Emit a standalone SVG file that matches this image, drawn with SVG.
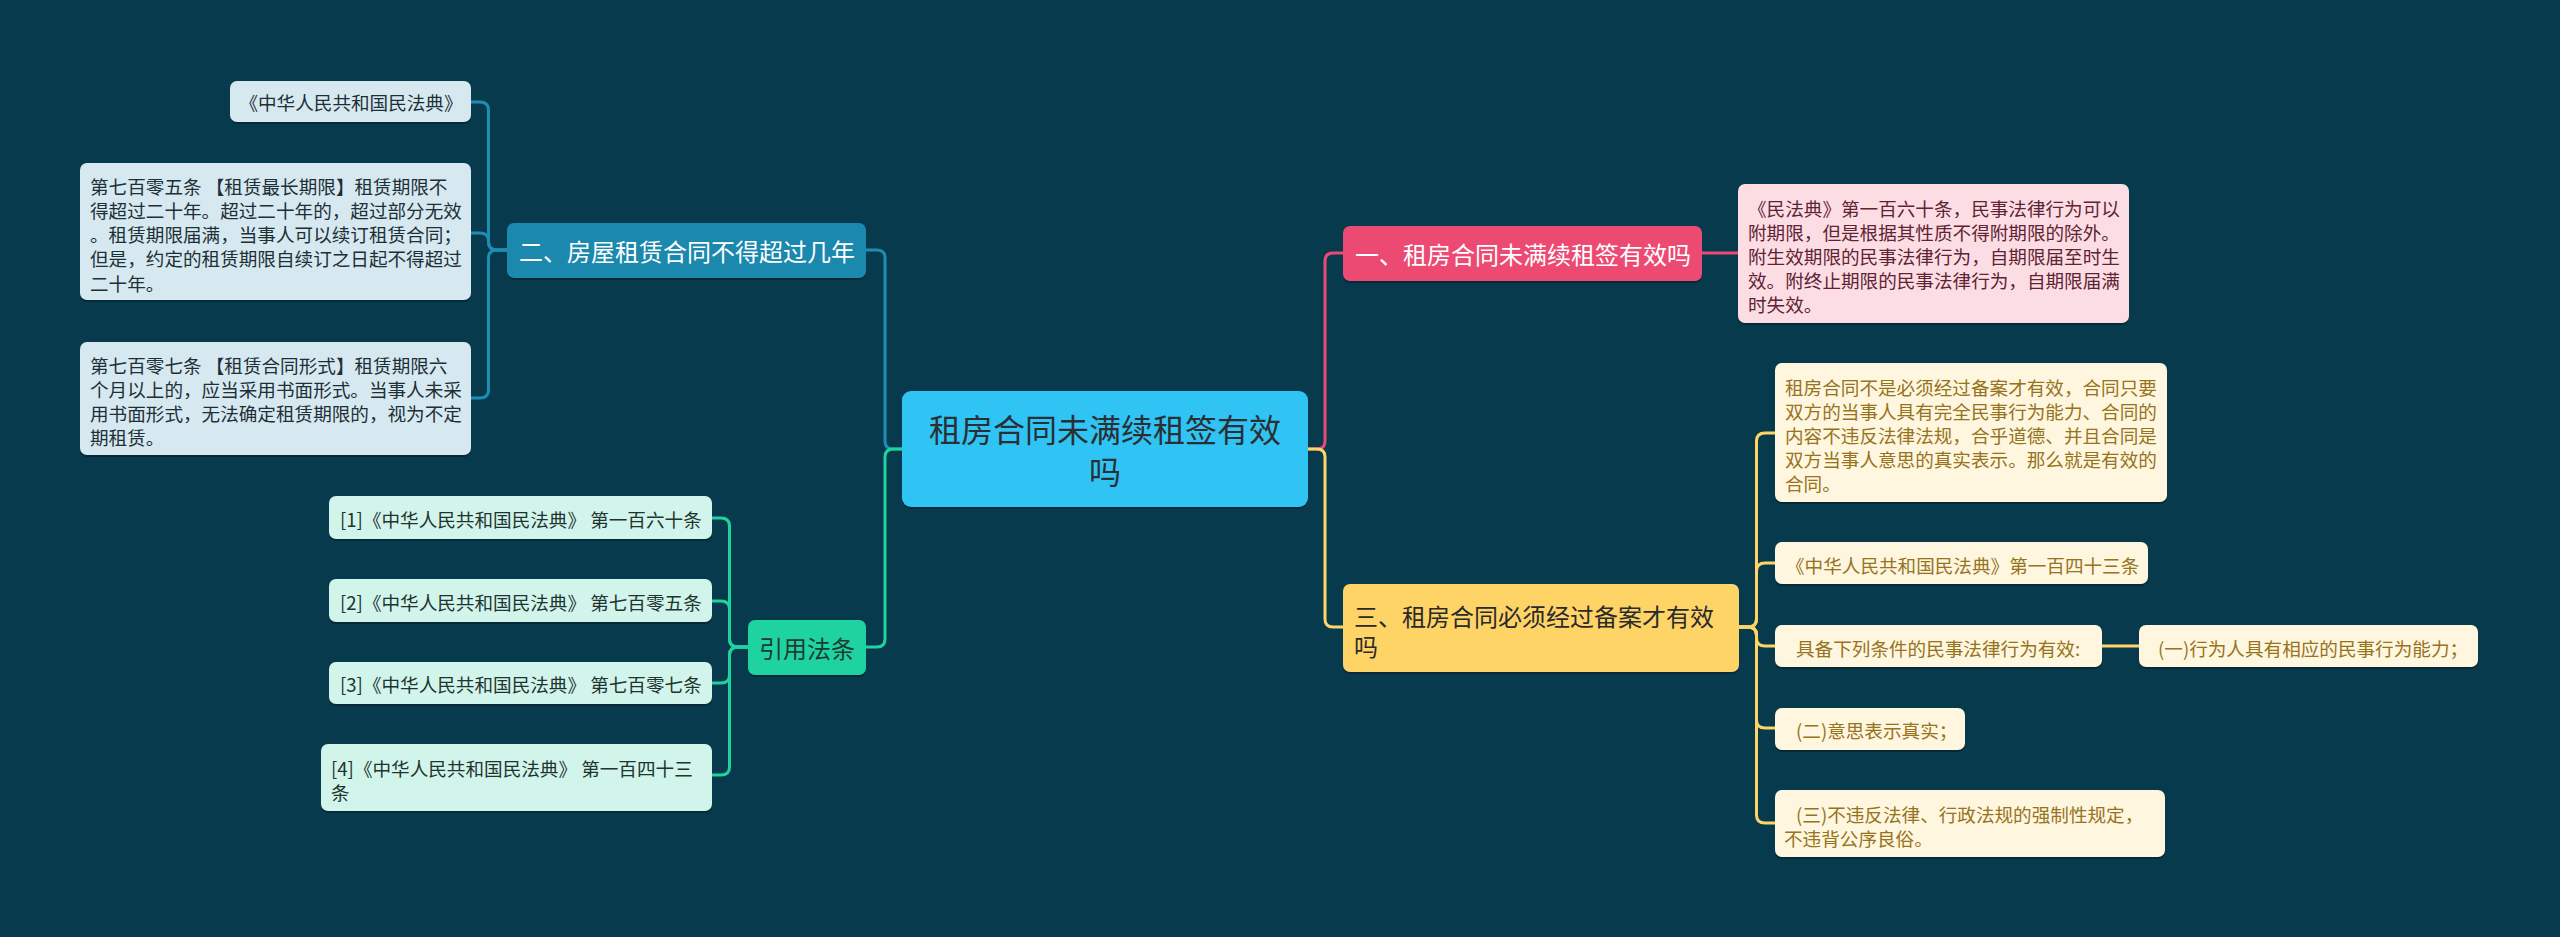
<svg xmlns="http://www.w3.org/2000/svg" width="2560" height="937" viewBox="0 0 2560 937">
<style>
text{font-family:"Noto Sans CJK SC","Noto Sans",sans-serif;dominant-baseline:central}
.sh{fill:rgba(0,0,0,0.28)}
.c{fill:none;stroke-width:3;stroke-linecap:round;stroke-linejoin:round}
.cb{stroke:#1E8DB3}.cg{stroke:#1FD3A0}.cp{stroke:#EC4A72}.cy{stroke:#FFD466}
.t19{font-size:18.6px}
.t24{font-size:24px}
.lb{fill:#D6E9F1}.lbt{fill:#1F2F36}
.lg{fill:#D2F5EB}.lgt{fill:#1F3430}
.lp{fill:#FDDDE4}.lpt{fill:#5E2434}
.ly{fill:#FFF6DF}.lyt{fill:#96731D}
</style>
<rect width="2560" height="937" fill="#073A4D"/>
<g id="connectors">
<path class="c cb" d="M902 449 H893 Q885 449 885 441 V258 Q885 250 877 250 H866"/>
<path class="c cb" d="M507 250 H497 Q488.5 250 488.5 242 V110 Q488.5 102 480 102 H471"/>
<path class="c cb" d="M507 250 H497 Q488.5 250 488.5 242 V241 Q488.5 233 480 233 H471"/>
<path class="c cb" d="M507 250 H497 Q488.5 250 488.5 258 V390 Q488.5 398 480 398 H471"/>
<path class="c cg" d="M902 449 H893 Q885 449 885 457 V639 Q885 647 877 647 H866"/>
<path class="c cg" d="M748 647 H738 Q729.5 647 729.5 639 V526 Q729.5 518 721 518 H712"/>
<path class="c cg" d="M748 647 H738 Q729.5 647 729.5 639 V609 Q729.5 601 721 601 H712"/>
<path class="c cg" d="M748 647 H738 Q729.5 647 729.5 655 V675 Q729.5 683 721 683 H712"/>
<path class="c cg" d="M748 647 H738 Q729.5 647 729.5 655 V767 Q729.5 775 721 775 H712"/>
<path class="c cp" d="M1307 449 H1317 Q1325 449 1325 441 V261 Q1325 253 1333 253 H1343"/>
<path class="c cp" d="M1702 253 H1738"/>
<path class="c cy" d="M1307 449 H1317 Q1325 449 1325 457 V619 Q1325 627 1333 627 H1343"/>
<path class="c cy" d="M1739 627 H1748 Q1756.5 627 1756.5 619 V441 Q1756.5 433 1765 433 H1775"/>
<path class="c cy" d="M1739 627 H1748 Q1756.5 627 1756.5 619 V571 Q1756.5 563 1765 563 H1775"/>
<path class="c cy" d="M1739 627 H1748 Q1756.5 627 1756.5 635 V638 Q1756.5 646 1765 646 H1775"/>
<path class="c cy" d="M1739 627 H1748 Q1756.5 627 1756.5 635 V720 Q1756.5 728 1765 728 H1775"/>
<path class="c cy" d="M1739 627 H1748 Q1756.5 627 1756.5 635 V815 Q1756.5 823 1765 823 H1775"/>
<path class="c cy" d="M2102 646 H2139"/>
</g>
<g id="root">
<rect class="sh" x="902" y="393" width="406" height="116" rx="9"/>
<rect x="902" y="391" width="406" height="116" rx="9" fill="#2FC4F4"/>
<text x="1105" y="428" font-size="32" text-anchor="middle" fill="#2A2F33">租房合同未满续租签有效</text>
<text x="1105" y="470" font-size="32" text-anchor="middle" fill="#2A2F33">吗</text>
</g>
<g id="n-er">
<rect class="sh" x="507" y="225" width="359" height="55" rx="7"/>
<rect x="507" y="223" width="359" height="55" rx="7" fill="#1B88AE"/>
<text class="t24" x="687" y="250" text-anchor="middle" fill="#FFFFFF">二、房屋租赁合同不得超过几年</text>
</g>
<g id="n-a1">
<rect class="sh" x="230" y="83" width="241" height="41" rx="7"/>
<rect class="lb" x="230" y="81" width="241" height="41" rx="7"/>
<text class="t19 lbt" x="351" y="101.5" text-anchor="middle">《中华人民共和国民法典》</text>
</g>
<g id="n-a2">
<rect class="sh" x="80" y="165" width="391" height="137" rx="7"/>
<rect class="lb" x="80" y="163" width="391" height="137" rx="7"/>
<text class="t19 lbt" x="90" y="185">第七百零五条 【租赁最长期限】租赁期限不</text>
<text class="t19 lbt" x="90" y="209.3">得超过二十年。超过二十年的，超过部分无效</text>
<text class="t19 lbt" x="90" y="233.6">。租赁期限届满，当事人可以续订租赁合同；</text>
<text class="t19 lbt" x="90" y="257.9">但是，约定的租赁期限自续订之日起不得超过</text>
<text class="t19 lbt" x="90" y="282.2">二十年。</text>
</g>
<g id="n-a3">
<rect class="sh" x="80" y="344" width="391" height="113" rx="7"/>
<rect class="lb" x="80" y="342" width="391" height="113" rx="7"/>
<text class="t19 lbt" x="90" y="364">第七百零七条 【租赁合同形式】租赁期限六</text>
<text class="t19 lbt" x="90" y="388.3">个月以上的，应当采用书面形式。当事人未采</text>
<text class="t19 lbt" x="90" y="412.6">用书面形式，无法确定租赁期限的，视为不定</text>
<text class="t19 lbt" x="90" y="436.9">期租赁。</text>
</g>
<g id="n-yy">
<rect class="sh" x="748" y="622" width="118" height="55" rx="7"/>
<rect x="748" y="620" width="118" height="55" rx="7" fill="#1FD3A0"/>
<text class="t24" x="807" y="647" text-anchor="middle" fill="#1D3A35">引用法条</text>
</g>
<g id="n-r1">
<rect class="sh" x="329" y="498" width="383" height="43" rx="7"/>
<rect class="lg" x="329" y="496" width="383" height="43" rx="7"/>
<text class="t19 lgt" x="340" y="518">[1]《中华人民共和国民法典》 第一百六十条</text>
</g>
<g id="n-r2">
<rect class="sh" x="329" y="581" width="383" height="43" rx="7"/>
<rect class="lg" x="329" y="579" width="383" height="43" rx="7"/>
<text class="t19 lgt" x="340" y="601">[2]《中华人民共和国民法典》 第七百零五条</text>
</g>
<g id="n-r3">
<rect class="sh" x="329" y="664" width="383" height="42" rx="7"/>
<rect class="lg" x="329" y="662" width="383" height="42" rx="7"/>
<text class="t19 lgt" x="340" y="683">[3]《中华人民共和国民法典》 第七百零七条</text>
</g>
<g id="n-r4">
<rect class="sh" x="321" y="746" width="391" height="67" rx="7"/>
<rect class="lg" x="321" y="744" width="391" height="67" rx="7"/>
<text class="t19 lgt" x="331" y="767">[4]《中华人民共和国民法典》 第一百四十三</text>
<text class="t19 lgt" x="331" y="791.5">条</text>
</g>
<g id="n-yi">
<rect class="sh" x="1343" y="228" width="359" height="55" rx="7"/>
<rect x="1343" y="226" width="359" height="55" rx="7" fill="#EC4A72"/>
<text class="t24" x="1355" y="253" fill="#FFFFFF">一、租房合同未满续租签有效吗</text>
</g>
<g id="n-p1">
<rect class="sh" x="1738" y="186" width="391" height="139" rx="7"/>
<rect class="lp" x="1738" y="184" width="391" height="139" rx="7"/>
<text class="t19 lpt" x="1748" y="207">《民法典》第一百六十条，民事法律行为可以</text>
<text class="t19 lpt" x="1748" y="231">附期限，但是根据其性质不得附期限的除外。</text>
<text class="t19 lpt" x="1748" y="255">附生效期限的民事法律行为，自期限届至时生</text>
<text class="t19 lpt" x="1748" y="279">效。附终止期限的民事法律行为，自期限届满</text>
<text class="t19 lpt" x="1748" y="303">时失效。</text>
</g>
<g id="n-san">
<rect class="sh" x="1343" y="586" width="396" height="88" rx="7"/>
<rect x="1343" y="584" width="396" height="88" rx="7" fill="#FFD466"/>
<text class="t24" x="1354" y="615" fill="#2A2A2A">三、租房合同必须经过备案才有效</text>
<text class="t24" x="1354" y="645" fill="#2A2A2A">吗</text>
</g>
<g id="n-y1">
<rect class="sh" x="1775" y="365" width="392" height="139" rx="7"/>
<rect class="ly" x="1775" y="363" width="392" height="139" rx="7"/>
<text class="t19 lyt" x="1785" y="386.5">租房合同不是必须经过备案才有效，合同只要</text>
<text class="t19 lyt" x="1785" y="410.5">双方的当事人具有完全民事行为能力、合同的</text>
<text class="t19 lyt" x="1785" y="434">内容不违反法律法规，合乎道德、并且合同是</text>
<text class="t19 lyt" x="1785" y="458">双方当事人意思的真实表示。那么就是有效的</text>
<text class="t19 lyt" x="1785" y="482">合同。</text>
</g>
<g id="n-y2">
<rect class="sh" x="1775" y="544" width="373" height="42" rx="7"/>
<rect class="ly" x="1775" y="542" width="373" height="42" rx="7"/>
<text class="t19 lyt" x="1786" y="564">《中华人民共和国民法典》第一百四十三条</text>
</g>
<g id="n-y3">
<rect class="sh" x="1775" y="627" width="327" height="42" rx="7"/>
<rect class="ly" x="1775" y="625" width="327" height="42" rx="7"/>
<text class="t19 lyt" x="1796" y="647">具备下列条件的民事法律行为有效:</text>
</g>
<g id="n-y3a">
<rect class="sh" x="2139" y="627" width="339" height="42" rx="7"/>
<rect class="ly" x="2139" y="625" width="339" height="42" rx="7"/>
<text class="t19 lyt" x="2158" y="647">(一)行为人具有相应的民事行为能力；</text>
</g>
<g id="n-y4">
<rect class="sh" x="1775" y="710" width="190" height="42" rx="7"/>
<rect class="ly" x="1775" y="708" width="190" height="42" rx="7"/>
<text class="t19 lyt" x="1796" y="729">(二)意思表示真实；</text>
</g>
<g id="n-y5">
<rect class="sh" x="1775" y="792" width="390" height="67" rx="7"/>
<rect class="ly" x="1775" y="790" width="390" height="67" rx="7"/>
<text class="t19 lyt" x="1796" y="813">(三)不违反法律、行政法规的强制性规定，</text>
<text class="t19 lyt" x="1784" y="837.5">不违背公序良俗。</text>
</g>
</svg>
